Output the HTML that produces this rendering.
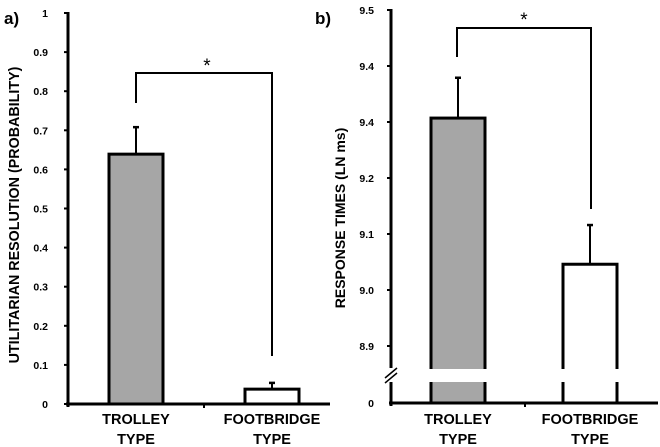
<!DOCTYPE html>
<html><head><meta charset="utf-8"><style>
body{margin:0;background:#fff}
svg{display:block;font-family:"Liberation Sans",Arial,sans-serif;font-weight:bold}
</style></head><body>
<svg id="c" width="660" height="447"></svg>
<script>
const categories=["TROLLEY","FOOTBRIDGE"];
const probValues=[0.639,0.038];
const probErrors=[0.069,0.016];
const probTicks=["0","0.1","0.2","0.3","0.4","0.5","0.6","0.7","0.8","0.9","1"];
const rtValues=[9.307,9.046];
const rtErrors=[0.072,0.07];
const rtTickVals=[8.9,9.0,9.1,9.2,9.3,9.4,9.5];
const rtTickLabels=["8.9","9.0","9.1","9.2","9.4","9.4","9.5"];
const fills=["#a6a6a6","#ffffff"];
const NS="http://www.w3.org/2000/svg";
const svg=document.getElementById('c');
function el(t,a,p){const e=document.createElementNS(NS,t);for(const k in a)e.setAttribute(k,a[k]);(p||svg).appendChild(e);return e;}
function txt(x,y,s,size,anchor,extra){const e=el('text',Object.assign({x:x,y:y,'font-size':size,'text-anchor':anchor||'middle'},extra||{}));e.textContent=s;return e;}

// Panel a
const ya=v=>404-v*391;
const ga=el('g',{});
let t=txt(4,24,"a)",17,'start');
probTicks.forEach((l,i)=>{const y=ya(i/10);
 el('line',{x1:64,x2:68,y1:y,y2:y,stroke:'#000','stroke-width':2},ga);
 const tt=txt(48,y+4,l,10.5,'end');});
const xa=[136,272];
categories.forEach((c,i)=>{
 const y=ya(probValues[i]),ye=ya(probValues[i]+probErrors[i]);
 el('line',{x1:xa[i],x2:xa[i],y1:y,y2:ye,stroke:'#000','stroke-width':2},ga);
 el('line',{x1:xa[i]-3,x2:xa[i]+3,y1:ye,y2:ye,stroke:'#000','stroke-width':2.5},ga);
 const b=el('rect',{x:xa[i]-27,y:y,width:54,height:404-y,fill:fills[i],stroke:'#000','stroke-width':3},ga);
 
 const l1=txt(xa[i],424,c,14.5);
 txt(xa[i],444,"TYPE",14.5);
});
el('line',{x1:68,x2:68,y1:12,y2:407,stroke:'#000','stroke-width':3},ga);
el('line',{x1:66,x2:330,y1:404,y2:404,stroke:'#000','stroke-width':3},ga);
el('line',{x1:204,x2:204,y1:404,y2:408,stroke:'#000','stroke-width':2},ga);
el('polyline',{points:'136,103 136,73 272,73 272,356',fill:'none',stroke:'#000','stroke-width':2},ga);
txt(207,72,"*",19,'middle',{'font-weight':'normal'});
t=txt(0,0,"UTILITARIAN RESOLUTION (PROBABILITY)",14.3,'middle',{transform:'translate(19,215) rotate(-90)'});


// Panel b
const yb=v=>10+(9.5-v)*560;
t=txt(315,24,"b)",17,'start');
rtTickVals.forEach((v,i)=>{const y=yb(v);
 el('line',{x1:387,x2:391,y1:y,y2:y,stroke:'#000','stroke-width':2});
 const tt=txt(374,y+4,rtTickLabels[i],10.5,'end');});
txt(374,407,"0",10.5,'end');
const xb=[458,590];
categories.forEach((c,i)=>{
 const y=yb(rtValues[i]),ye=yb(rtValues[i]+rtErrors[i]);
 el('line',{x1:xb[i],x2:xb[i],y1:y,y2:ye,stroke:'#000','stroke-width':2});
 el('line',{x1:xb[i]-3,x2:xb[i]+3,y1:ye,y2:ye,stroke:'#000','stroke-width':2.5});
 const b=el('rect',{x:xb[i]-27,y:y,width:54,height:403-y,fill:fills[i],stroke:'#000','stroke-width':3});
 
 el('rect',{x:xb[i]-30,y:369,width:60,height:13,fill:'#fff'});
 const l1=txt(xb[i],424,c,14.5);
 txt(xb[i],444,"TYPE",14.5);
});
el('line',{x1:391,x2:391,y1:9,y2:368,stroke:'#000','stroke-width':3});
el('line',{x1:391,x2:391,y1:382,y2:406,stroke:'#000','stroke-width':3});
el('line',{x1:385,x2:397,y1:378,y2:368,stroke:'#000','stroke-width':1.5});
el('line',{x1:385,x2:397,y1:383,y2:373,stroke:'#000','stroke-width':1.5});
el('line',{x1:389,x2:658,y1:403,y2:403,stroke:'#000','stroke-width':3});
el('line',{x1:525,x2:525,y1:403,y2:407,stroke:'#000','stroke-width':2});
el('polyline',{points:'457,57 457,28 591,28 591,209',fill:'none',stroke:'#000','stroke-width':2});
txt(524,26,"*",19,'middle',{'font-weight':'normal'});
t=txt(0,0,"RESPONSE TIMES (LN ms)",14,'middle',{transform:'translate(345,218) rotate(-90)'});

</script>
</body></html>
